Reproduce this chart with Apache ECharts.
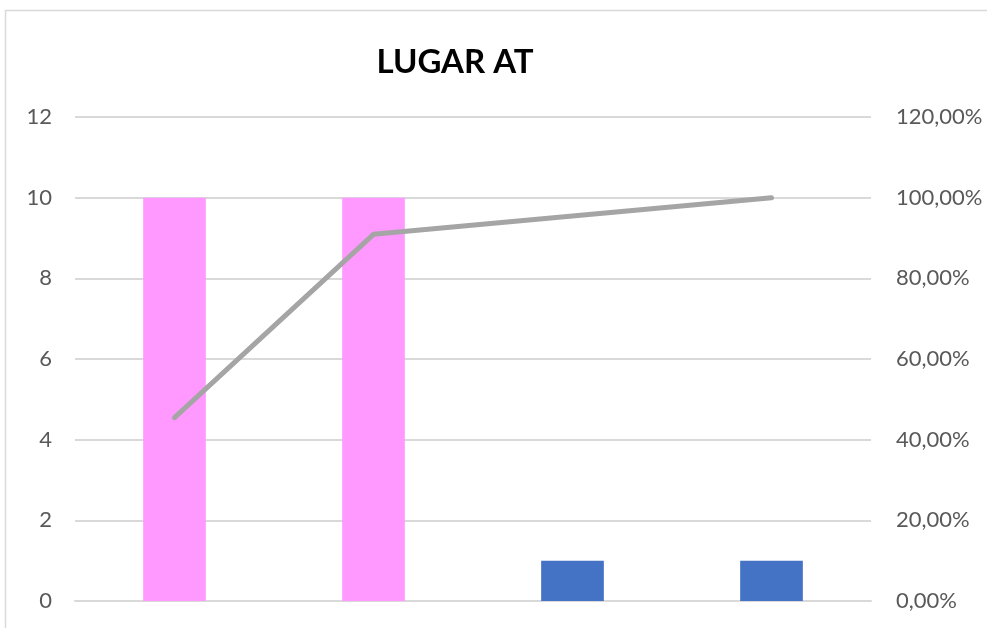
<!DOCTYPE html>
<html>
<head>
<meta charset="utf-8">
<script src="https://cdn.jsdelivr.net/npm/echarts@6/dist/echarts.min.js"></script>
<style>
  html, body { margin: 0; padding: 0; background: #fff; }
  #chart { width: 987px; height: 628px; }
</style>
</head>
<body>
<div id="chart"></div>
<script>
// Categories (labels sit below the visible area)
const categories = ['A', 'B', 'C', 'D'];
// Counts per category
const counts = [10, 10, 1, 1];
// Bar colours per category
const barColors = ['#FF99FF', '#FF99FF', '#4472C4', '#4472C4'];
// Cumulative share (%)
const cumulative = [45.45, 90.91, 95.45, 100];

const chart = echarts.init(document.getElementById('chart'));
const font = 'Lato, "Open Sans", "Liberation Sans", sans-serif';

chart.setOption({
  animation: false,
  backgroundColor: '#fff',
  graphic: [{
    type: 'polyline',
    shape: { points: [[5.5, 640], [5.5, 10.5], [1000, 10.5]] },
    style: { stroke: '#D9D9D9', lineWidth: 1.5, fill: null },
    silent: true
  }],
  title: {
    text: 'LUGAR AT',
    left: 450,
    top: 41,
    textAlign: 'center',
    textStyle: { fontFamily: font, fontWeight: 'bold', fontSize: 33, color: '#000' }
  },
  grid: { left: 75, right: 116, top: 117, bottom: 27, containLabel: false },
  xAxis: {
    type: 'category',
    data: categories,
    axisLine: { show: true, lineStyle: { color: '#D9D9D9', width: 2 } },
    axisTick: { show: false },
    axisLabel: { show: false }
  },
  yAxis: [{
    type: 'value',
    min: 0, max: 12, interval: 2,
    axisLine: { show: false },
    axisTick: { show: false },
    splitLine: { lineStyle: { color: '#D9D9D9', width: 2 } },
    axisLabel: { color: '#595959', fontSize: 22, fontFamily: font, margin: 23 }
  }, {
    type: 'value',
    min: 0, max: 120, interval: 20,
    axisLine: { show: false },
    axisTick: { show: false },
    splitLine: { show: false },
    axisLabel: {
      color: '#595959', fontSize: 22, fontFamily: font, margin: 25,
      formatter: v => v.toFixed(2).replace('.', ',') + '%'
    }
  }],
  series: [{
    type: 'bar',
    yAxisIndex: 0,
    barWidth: '31.5%',
    data: counts.map((v, i) => ({ value: v, itemStyle: { color: barColors[i] } }))
  }, {
    type: 'line',
    yAxisIndex: 1,
    data: cumulative,
    symbol: 'none',
    lineStyle: { color: '#A5A5A5', width: 5, cap: 'round', join: 'round' },
    z: 5
  }]
});
</script>
</body>
</html>
